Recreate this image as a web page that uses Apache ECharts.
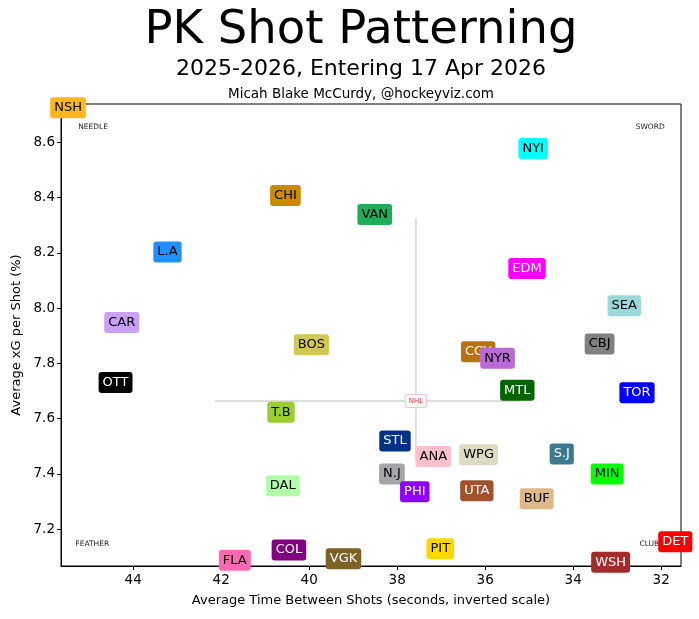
<!DOCTYPE html>
<html>
<head>
<meta charset="utf-8">
<script src="https://cdn.jsdelivr.net/npm/echarts@6/dist/echarts.min.js"></script>
<style>
html,body{margin:0;padding:0;background:#fff;}
#c{width:699px;height:619px;}
</style>
</head>
<body>
<div id="c"></div>
<script>
// ---- data ----
const teams = ['NSH','NYI','CHI','VAN','L.A','EDM','SEA','CAR','BOS','CBJ','CGY','NYR','OTT','MTL','TOR','T.B','STL','ANA','WPG','S.J','N.J','MIN','DAL','PHI','UTA','BUF','DET','PIT','COL','FLA','VGK','WSH'];
const timeBetweenShots = [45.48,34.91,40.54,38.51,43.22,35.05,32.84,44.26,39.95,33.40,36.16,35.72,44.40,35.27,32.55,40.64,38.05,37.18,36.15,34.26,38.12,33.23,40.60,37.60,36.19,34.83,31.68,37.02,40.46,41.69,39.22,33.15];
const xgPerShot = [8.725,8.578,8.408,8.339,8.203,8.144,8.009,7.948,7.868,7.870,7.842,7.819,7.731,7.703,7.694,7.623,7.519,7.463,7.470,7.472,7.400,7.400,7.357,7.336,7.339,7.310,7.155,7.129,7.125,7.088,7.093,7.081];
const nhlAvg = [37.575, 7.664];
const hLine = [[42.14, 7.664],[35.2, 7.664]];
const vLine = [[37.575, 8.326],[37.575, 7.45]];
const cornerNames = ['NEEDLE','SWORD','FEATHER','CLUB'];
const cornerX = [44.91, 32.25, 44.93, 32.27];
const cornerY = [8.657, 8.657, 7.148, 7.148];
const xTicks = [44,42,40,38,36,34,32];
const yTicks = [7.2,7.4,7.6,7.8,8.0,8.2,8.4,8.6];

// ---- styles ----
const teamStyle = {
  'NSH':['#FFB81C','#000'],'NYI':['#00FFFF','#000'],'CHI':['#CC8A00','#000'],'VAN':['#20AD5A','#000'],
  'L.A':['#1E90FF','#000'],'EDM':['#FF00FF','#fff'],'SEA':['#99D9D9','#000'],'CAR':['#C9A0F5','#000'],
  'BOS':['#D2C850','#000'],'CBJ':['#808080','#000'],'CGY':['#B8740A','#fff'],'NYR':['#BA6AD6','#000'],
  'OTT':['#000000','#fff'],'MTL':['#006400','#fff'],'TOR':['#0000FF','#fff'],'T.B':['#9ACD32','#000'],
  'STL':['#003087','#fff'],'ANA':['#FFC0CB','#000'],'WPG':['#DEDBC4','#000'],'S.J':['#3D7A91','#fff'],
  'N.J':['#A2A6A9','#000'],'MIN':['#00FF00','#000'],'DAL':['#B0FFA8','#000'],'PHI':['#8B00FF','#fff'],
  'UTA':['#A0522D','#fff'],'BUF':['#DEB887','#000'],'DET':['#FF0000','#fff'],'PIT':['#FFD700','#000'],
  'COL':['#800080','#fff'],'FLA':['#FF69B4','#000'],'VGK':['#7D6125','#fff'],'WSH':['#A52A2A','#fff']
};
const FONT = 'DejaVu Sans';

const teamData = teams.map((t,i)=>({
  name: t,
  value: [timeBetweenShots[i], xgPerShot[i]],
  label: { backgroundColor: teamStyle[t][0], color: teamStyle[t][1] }
}));
const cornerData = cornerNames.map((n,i)=>({name:n, value:[cornerX[i], cornerY[i]]}));

const chart = echarts.init(document.getElementById('c'), null, {renderer:'canvas'});
chart.setOption({
  animation: false,
  backgroundColor: '#fff',
  textStyle: { fontFamily: FONT },
  grid: { left: 61, right: 18, top: 104, bottom: 53, show: true, borderColor: '#000', borderWidth: 1, containLabel: false },
  xAxis: {
    type: 'value', inverse: true, min: 31.55, max: 45.64,
    name: 'Average Time Between Shots (seconds, inverted scale)',
    nameLocation: 'middle', nameGap: 28,
    nameTextStyle: { fontSize: 13, color: '#000', fontFamily: FONT },
    axisLine: { show: true, lineStyle: { color: '#000', width: 1 } },
    axisTick: { show: true, length: 4, lineStyle: { color: '#000' }, customValues: xTicks },
    axisLabel: { color: '#000', fontSize: 13.5, margin: 7, fontFamily: FONT, customValues: xTicks, formatter: v => String(Math.round(v)) },
    splitLine: { show: false }
  },
  yAxis: {
    type: 'value', min: 7.067, max: 8.739,
    name: 'Average xG per Shot (%)',
    nameLocation: 'middle', nameGap: 38,
    nameTextStyle: { fontSize: 13, color: '#000', fontFamily: FONT },
    axisLine: { show: true, lineStyle: { color: '#000', width: 1 } },
    axisTick: { show: true, length: 4, lineStyle: { color: '#000' }, customValues: yTicks },
    axisLabel: { color: '#000', fontSize: 13.5, margin: 6, fontFamily: FONT, customValues: yTicks, formatter: v => v.toFixed(1) },
    splitLine: { show: false }
  },
  graphic: [
    { type:'text', x: 361, y: 31, style: { text: 'PK Shot Patterning', fontSize: 46.5, fontFamily: FONT, fill: '#000', textAlign: 'center', textVerticalAlign: 'middle' } },
    { type:'text', x: 361, y: 69, style: { text: '2025-2026, Entering 17 Apr 2026', fontSize: 22, fontFamily: FONT, fill: '#000', textAlign: 'center', textVerticalAlign: 'middle' } },
    { type:'text', x: 361, y: 94, style: { text: 'Micah Blake McCurdy, @hockeyviz.com', fontSize: 13.5, fontFamily: FONT, fill: '#000', textAlign: 'center', textVerticalAlign: 'middle' } }
  ],
  series: [
    { type: 'line', data: hLine, symbol: 'none', silent: true, z: 1, lineStyle: { color: '#dddddd', width: 2 } },
    { type: 'line', data: vLine, symbol: 'none', silent: true, z: 1, lineStyle: { color: '#dddddd', width: 2 } },
    { type: 'scatter', data: cornerData, symbolSize: 1, itemStyle: { color: 'rgba(0,0,0,0)', opacity: 1 }, z: 2,
      label: { show: true, position: 'inside', formatter: p => p.name, fontSize: 7.5, color: '#222', fontFamily: FONT } },
    { type: 'scatter', data: [{name:'NHL', value: nhlAvg}], symbolSize: 1, itemStyle: { color: 'rgba(0,0,0,0)', opacity: 1 }, z: 3,
      label: { show: true, position: 'inside', formatter: 'NHL', fontSize: 7, color: '#e03030', fontFamily: FONT,
        backgroundColor: '#fff', borderColor: '#f7c4c4', borderWidth: 1, borderRadius: 2, padding: [3,3,2,3] } },
    { type: 'scatter', data: teamData, symbolSize: 1, itemStyle: { color: 'rgba(0,0,0,0)', opacity: 1 }, z: 4,
      label: { show: true, position: 'inside', formatter: p => p.name, fontSize: 13, fontFamily: FONT, lineHeight: 14,
        padding: [4,4,3,4], borderRadius: 3 } }
  ]
});
</script>
</body>
</html>
